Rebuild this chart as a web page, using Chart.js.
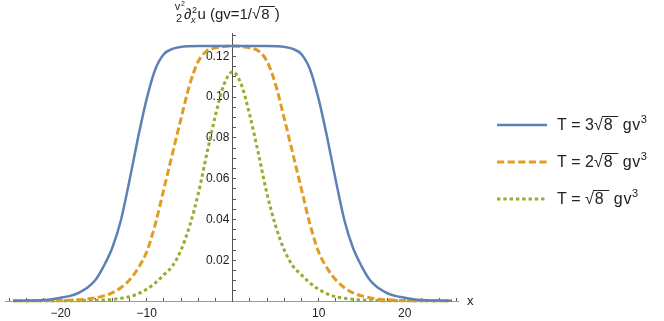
<!DOCTYPE html>
<html>
<head>
<meta charset="utf-8">
<script src="https://cdn.jsdelivr.net/npm/chart.js@4"></script>
<style>
  html, body { margin: 0; padding: 0; background: #fff; }
  canvas { display: block; }
</style>
</head>
<body>
<canvas id="myChart" width="664" height="321"></canvas>
<script>
// ------------------------------------------------------------
// Data
// ------------------------------------------------------------
const xs = [-25.5, -25, -24, -23, -22, -21, -20, -19, -18, -17, -16, -15, -14, -13, -12, -11, -10, -9, -8, -7, -6, -5, -4, -3, -2, -1,
    0, 1, 2, 3, 4, 5, 6, 7, 8, 9, 10, 11, 12, 13, 14, 15, 16, 17, 18, 19, 20, 21, 22, 23, 24, 25, 25.5]

// T = 3 sqrt(8) gv^3
const blueT3 = [0.0001, 0.0001, 0.0002, 0.0003, 0.0005, 0.0009, 0.0016, 0.0024, 0.0038, 0.0062, 0.0100, 0.0170, 0.0260, 0.0395, 0.0590, 0.0800, 0.0990, 0.1135, 0.1210, 0.1236, 0.1246, 0.1249,
    0.1250, 0.1250, 0.1250, 0.1250, 0.1250, 0.1250, 0.1250, 0.1250, 0.1250,
    0.1249, 0.1246, 0.1236, 0.1210, 0.1135, 0.0990, 0.0800, 0.0590, 0.0395, 0.0260, 0.0170, 0.0100, 0.0062, 0.0038, 0.0024, 0.0016, 0.0009, 0.0005, 0.0003, 0.0002, 0.0001, 0.0001]

// T = 2 sqrt(8) gv^3
const orangeT2 = [0.0001, 0.0001, 0.0001, 0.0001, 0.0001, 0.0001, 0.0002, 0.0004, 0.0006, 0.0009, 0.0015, 0.0025, 0.0040, 0.0065, 0.0103, 0.0160, 0.0240, 0.0375, 0.0548, 0.0722, 0.0895, 0.1060, 0.1175, 0.1226, 0.1241, 0.1248,
    0.1250,
    0.1248, 0.1241, 0.1226, 0.1175, 0.1060, 0.0895, 0.0722, 0.0548, 0.0375, 0.0240, 0.0160, 0.0103, 0.0065, 0.0040, 0.0025, 0.0015, 0.0009, 0.0006, 0.0004, 0.0002, 0.0001, 0.0001, 0.0001, 0.0001, 0.0001, 0.0001]

// T = sqrt(8) gv^3
const greenT1 = [0.0001, 0.0001, 0.0001, 0.0001, 0.0001, 0.0001, 0.0001, 0.0001, 0.0001, 0.0002, 0.0003, 0.0005, 0.0008, 0.0013, 0.0021, 0.0035, 0.0058, 0.0088, 0.0128, 0.0172, 0.0250, 0.0368, 0.0525, 0.0722, 0.0910, 0.1062,
    0.1124,
    0.1062, 0.0910, 0.0722, 0.0525, 0.0368, 0.0250, 0.0172, 0.0128, 0.0088, 0.0058, 0.0035, 0.0021, 0.0013, 0.0008, 0.0005, 0.0003, 0.0002, 0.0001, 0.0001, 0.0001, 0.0001, 0.0001, 0.0001, 0.0001, 0.0001, 0.0001]

const xLabelEvery = 10     // labelled x ticks
const yLabelEvery = 0.02   // labelled y ticks

const FONT = "'Liberation Sans', Arial, sans-serif"

function pts(ys) {
    return xs.map((x, i) => ({ x: x, y: ys[i] }))
}

// ------------------------------------------------------------
// text helpers (title, legend)
// ------------------------------------------------------------
// parts: {t}, {it}, {sup}, {supsub}, {sqrt}, {gap}
function mathText(ctx, x, base, parts, size) {
    ctx.textBaseline = 'alphabetic'
    ctx.textAlign = 'left'
    let cx = x
    parts.forEach(p => {
        if (p.gap !== undefined) {
            cx += p.gap
        } else if (p.t !== undefined) {
            ctx.font = size + 'px ' + FONT
            ctx.fillText(p.t, cx, base)
            cx += ctx.measureText(p.t).width
        } else if (p.it !== undefined) {
            ctx.font = 'italic ' + size + 'px ' + FONT
            ctx.fillText(p.it, cx, base)
            cx += ctx.measureText(p.it).width
        } else if (p.sup !== undefined) {
            ctx.font = Math.round(size * 0.66) + 'px ' + FONT
            ctx.fillText(p.sup, cx + 0.5, base - size * 0.42)
            cx += ctx.measureText(p.sup).width + 0.5
        } else if (p.supsub !== undefined) {
            const s = Math.round(size * 0.62)
            ctx.font = s + 'px ' + FONT
            ctx.fillText(p.supsub[0], cx + 0.5, base - size * 0.42)
            const w1 = ctx.measureText(p.supsub[0]).width
            ctx.font = 'italic ' + s + 'px ' + FONT
            ctx.fillText(p.supsub[1], cx - 0.5, base + size * 0.25)
            const w2 = ctx.measureText(p.supsub[1]).width
            cx += Math.max(w1, w2) + 1
        } else if (p.sqrt !== undefined) {
            ctx.font = size + 'px ' + FONT
            ctx.fillText('\u221A', cx, base)
            const ws = ctx.measureText('\u221A').width
            const wr = ctx.measureText(p.sqrt).width
            ctx.fillText(p.sqrt, cx + ws + 1, base)
            const ext = size * 0.35
            ctx.save()
            ctx.lineWidth = 1
            ctx.strokeStyle = ctx.fillStyle
            ctx.beginPath()
            const oy = Math.round(base - size * 0.86) + 0.5
            ctx.moveTo(cx + ws - 0.8, oy)
            ctx.lineTo(cx + ws + 1 + wr + ext, oy)
            ctx.stroke()
            ctx.restore()
            cx += ws + 1 + wr + ext
        }
    })
    return cx
}

const textPlugin = {
    id: 'textPlugin',
    afterDraw(chart) {
        const ctx = chart.ctx
        ctx.save()
        ctx.fillStyle = '#222'

        // y axis title on top
        ctx.textAlign = 'center'
        ctx.font = '11px ' + FONT
        ctx.fillText('v', 177.5, 10)
        ctx.font = '7px ' + FONT
        ctx.textAlign = 'left'
        ctx.fillText('2', 181, 6)
        ctx.textAlign = 'center'
        ctx.font = '11px ' + FONT
        ctx.fillText('2', 179, 21.5)
        mathText(ctx, 184, 19, [
            { t: '\u2202' }, { supsub: ['2', 'x'] }, { t: 'u (gv=1/' }, { sqrt: '8' }, { t: ')' }
        ], 15)

        // x axis label
        ctx.textAlign = 'left'
        ctx.font = '13px ' + FONT
        ctx.fillText('x', 467, 305)

        // legend
        const rows = [
            { y: 125, parts: [{ t: 'T = 3' }, { sqrt: '8' }, { t: ' g' }, { gap: 0.8 }, { t: 'v' }, { sup: '3' }] },
            { y: 162, parts: [{ t: 'T = 2' }, { sqrt: '8' }, { t: ' g' }, { gap: 0.8 }, { t: 'v' }, { sup: '3' }] },
            { y: 199, parts: [{ t: 'T = ' }, { sqrt: '8' }, { t: ' g' }, { gap: 0.8 }, { t: 'v' }, { sup: '3' }] }
        ]
        rows.forEach((r, i) => {
            const ds = chart.data.datasets[i]
            ctx.save()
            ctx.strokeStyle = ds.borderColor
            ctx.lineWidth = ds.borderWidth
            ctx.setLineDash(ds.borderDash || [])
            ctx.beginPath()
            ctx.moveTo(497, r.y)
            ctx.lineTo(547, r.y)
            ctx.stroke()
            ctx.restore()
            mathText(ctx, 557, r.y + 5, r.parts, 16)
        })
        ctx.restore()
    }
}

// ------------------------------------------------------------
// chart
// ------------------------------------------------------------
const data = {
    datasets: [
        {
            label: 'T = 3\u221A8 gv\u00B3',
            data: pts(blueT3),
            borderColor: '#5E81B5',
            borderWidth: 2.5,
        },
        {
            label: 'T = 2\u221A8 gv\u00B3',
            data: pts(orangeT2),
            borderColor: '#E19C24',
            borderWidth: 3,
            borderDash: [7.2, 3.4],
        },
        {
            label: 'T = \u221A8 gv\u00B3',
            data: pts(greenT1),
            borderColor: '#8FB032',
            borderWidth: 3,
            borderDash: [3.4, 2.9],
        }
    ]
}

const tickFont = { family: FONT, size: 12 }

const config = {
    type: 'line',
    data: data,
    options: {
        responsive: false,
        animation: false,
        devicePixelRatio: 1,
        layout: { padding: { left: 0, right: 206, top: 33, bottom: 20 } },
        elements: {
            point: { radius: 0 },
            line: { cubicInterpolationMode: 'monotone', fill: false, borderCapStyle: 'butt' }
        },
        datasets: { line: { clip: 4 } },
        plugins: {
            legend: { display: false },
            title: { display: false },
            tooltip: { enabled: false }
        },
        scales: {
            x: {
                type: 'linear',
                position: { y: 0 },
                min: -26.4,
                max: 26.2,
                grid: { drawOnChartArea: false, drawTicks: true, tickLength: -4, color: '#555' },
                border: { display: true, color: '#999', width: 1 },
                ticks: {
                    stepSize: 2,
                    includeBounds: false,
                    autoSkip: false,
                    maxRotation: 0,
                    padding: 9,
                    color: '#222',
                    font: tickFont,
                    callback: (v) => (v !== 0 && v % xLabelEvery === 0) ? String(v).replace('-', '\u2212') : ''
                }
            },
            y: {
                type: 'linear',
                position: { x: 0 },
                min: 0,
                max: 0.1314,
                grid: { drawOnChartArea: false, drawTicks: true, tickLength: -4, color: '#555' },
                border: { display: true, color: '#555', width: 1 },
                ticks: {
                    stepSize: 0.005,
                    includeBounds: false,
                    autoSkip: false,
                    padding: 8,
                    color: '#222',
                    font: tickFont,
                    // labels are right-aligned on the axis line; trailing space keeps a gap
                    callback: (v) => {
                        const k = v / yLabelEvery
                        return (v > 0 && Math.abs(k - Math.round(k)) < 1e-6) ? v.toFixed(2) + ' ' : ''
                    }
                }
            }
        }
    },
    plugins: [textPlugin]
}

const myChart = new Chart(
    document.getElementById('myChart'),
    config
)
</script>
</body>
</html>
